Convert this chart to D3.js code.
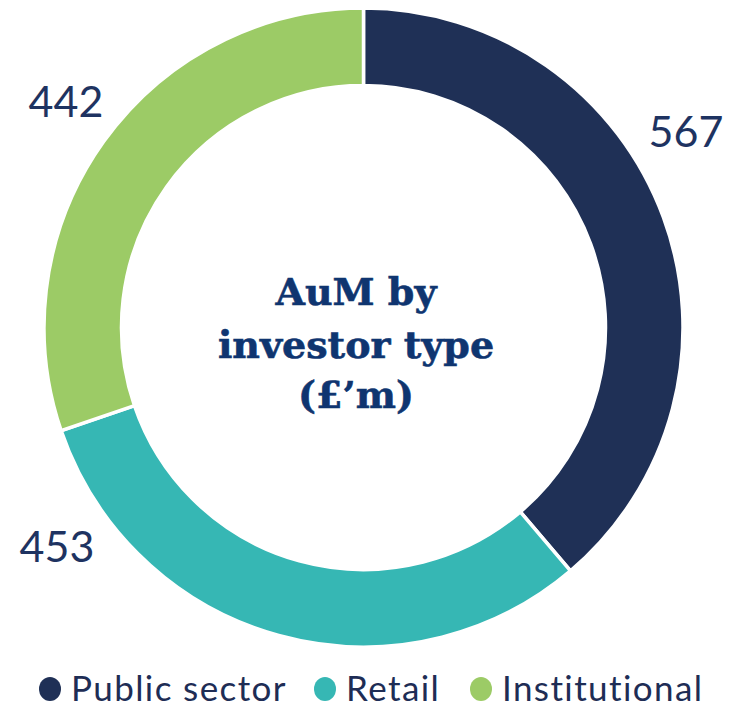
<!DOCTYPE html>
<html><head><meta charset="utf-8">
<script src="https://cdn.jsdelivr.net/npm/d3@7"></script>
<style>html,body{margin:0;padding:0;background:#fff;}svg{display:block;}</style>
</head><body>
<script>
const categories = ["Public sector", "Retail", "Institutional"];
const values = [567, 453, 442];
const colors = ["#1f3056", "#36b7b4", "#9ccb66"];
const titleLines = ["AuM by", "investor type", "(£’m)"];

const W = 730, H = 707;
const cx = 363.5, cy = 327.5, R = 319.5, r = 242;
const svg = d3.select("body").append("svg").attr("width", W).attr("height", H);
const g = svg.append("g").attr("transform", `translate(${cx},${cy})`);

const data = categories.map((c, i) => ({cat: c, value: values[i], color: colors[i]}));
const pie = d3.pie().sort(null).value(d => d.value);
const arc = d3.arc().innerRadius(r).outerRadius(R);
const arcs = pie(data);

g.selectAll("path").data(arcs).join("path")
  .attr("d", arc).attr("fill", d => d.data.color)
  .attr("stroke", "#fff").attr("stroke-width", 3.5).attr("stroke-linejoin", "miter");

// value labels
const labelPos = [{x: 686, y: 147}, {x: 57, y: 562}, {x: 66, y: 117}];
svg.selectAll("text.val").data(arcs).join("text").attr("class", "val")
  .attr("x", (d, i) => labelPos[i].x).attr("y", (d, i) => labelPos[i].y)
  .attr("text-anchor", "middle")
  .attr("font-family", "Lato, sans-serif").attr("font-size", 43)
  .attr("fill", "#1e3361")
  .text(d => d.data.value);

// center title
const title = svg.append("text").attr("text-anchor", "middle")
  .attr("font-family", "'DejaVu Serif', serif").attr("font-weight", "bold")
  .attr("font-size", 38).attr("fill", "#0f3570")
  .attr("stroke", "#0f3570").attr("stroke-width", 0.6);
const titleY = [305, 358, 408];
titleLines.forEach((t, i) => title.append("tspan").attr("x", 356).attr("y", titleY[i]).text(t));

// legend
const legX = [50, 325, 481];
const leg = svg.append("g");
data.forEach((d, i) => {
  leg.append("ellipse").attr("cx", legX[i]).attr("cy", 689).attr("rx", 11).attr("ry", 12).attr("fill", d.color);
  leg.append("text").attr("x", legX[i] + 21).attr("y", 701)
    .attr("font-family", "Lato, sans-serif").attr("font-size", 35)
    .attr("letter-spacing", 1.4)
    .attr("fill", "#1e2d55").text(d.cat);
});
</script>
</body></html>
